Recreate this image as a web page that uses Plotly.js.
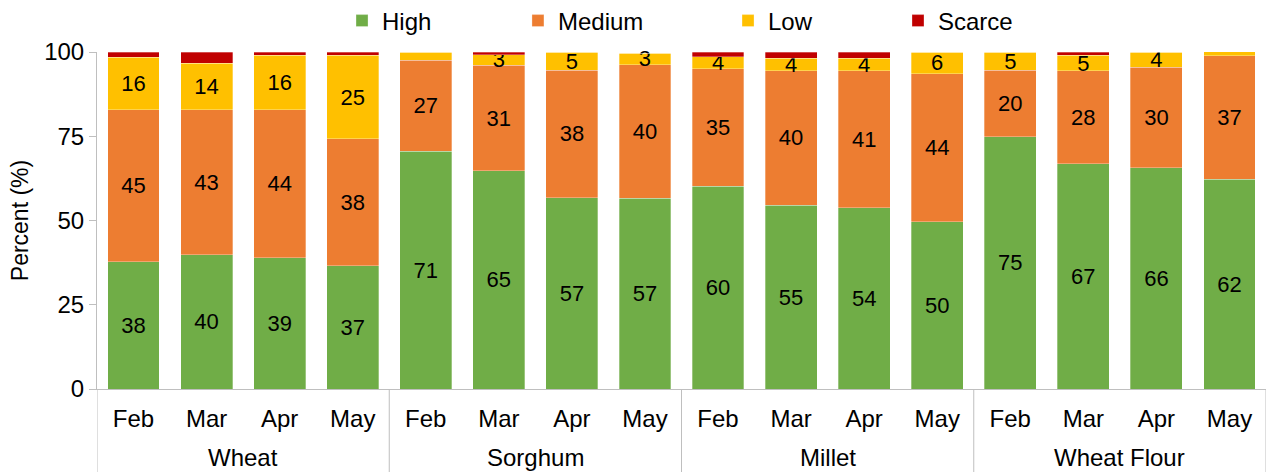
<!DOCTYPE html>
<html>
<head>
<meta charset="utf-8">
<script src="https://cdn.plot.ly/plotly-3.0.1.min.js"></script>
<style>html,body{margin:0;padding:0;background:#fff;}#chart{width:1271px;height:472px;}</style>
</head>
<body>
<div id="chart"></div>
<script>
const groups = ["Wheat","Wheat","Wheat","Wheat","Sorghum","Sorghum","Sorghum","Sorghum","Millet","Millet","Millet","Millet","Wheat Flour","Wheat Flour","Wheat Flour","Wheat Flour"];
const months = ["Feb","Mar","Apr","May","Feb","Mar","Apr","May","Feb","Mar","Apr","May","Feb","Mar","Apr","May"];
const high   = [37.7, 39.8, 38.9, 36.6, 70.6, 64.7, 56.8, 56.6, 60.2, 54.6, 53.8, 49.6, 74.8, 66.8, 65.6, 62.3];
const medium = [45.1, 43.0, 43.9, 37.6, 27.0, 31.4, 37.8, 39.6, 34.8, 39.9, 40.7, 44.0, 19.8, 27.6, 29.9, 36.6];
const low    = [15.7, 13.8, 16.2, 24.8,  2.4,  3.1,  5.4,  3.45, 3.6,  3.6,  3.6,  6.4,  5.4,  4.6,  4.4,  1.2];
const scarce = [ 1.5,  3.4,  1.0,  1.0,  0.0,  0.8,  0.0,  0.0,  1.4,  1.9,  1.9,  0.0,  0.0,  1.0,  0.0,  0.0];
const seriesNames = ["High","Medium","Low","Scarce"];
const seriesColors = ["#70AD47","#ED7D31","#FFC000","#C00000"];
const seriesData = [high, medium, low, scarce];
const showLabel = [true, true, true, false];
const legendIds = ["legend","legend2","legend3","legend4"];
const legendX = [0.2096, 0.3601, 0.5398, 0.6852];

const FONT = "Liberation Sans, Arial, sans-serif";
const idx = months.map((_, i) => i);

const traces = seriesData.map((vals, i) => ({
  type: "bar",
  name: seriesNames[i],
  legend: legendIds[i],
  x: idx,
  y: vals,
  marker: {color: seriesColors[i], line: {color: "rgba(255,255,255,0.6)", width: 0.5}},
  text: vals.map(v => (showLabel[i] && v >= 2.5) ? String(Math.round(v)) : ""),
  textposition: "inside",
  insidetextanchor: "middle",
  textangle: 0,
  constraintext: "none",
  textfont: {family: FONT, size: 22, color: "#000"},
  hoverinfo: "skip",
  cliponaxis: false
}));

// group labels and dividers derived from the groups array
const annotations = [];
const shapes = [];
let start = 0;
for (let i = 1; i <= groups.length; i++) {
  if (i === groups.length || groups[i] !== groups[start]) {
    annotations.push({
      text: groups[start], x: (start + i - 1) / 2, xref: "x",
      y: -0.2018, yref: "paper", yanchor: "middle", xanchor: "center",
      showarrow: false, font: {family: FONT, size: 24, color: "#000"}
    });
    shapes.push({type: "line", xref: "x", yref: "paper", x0: start - 0.5, x1: start - 0.5,
      y0: 0, y1: -0.2463, line: {color: "#BFBFBF", width: 1}});
    start = i;
  }
}
shapes.push({type: "line", xref: "x", yref: "paper", x0: groups.length - 0.5, x1: groups.length - 0.5,
  y0: 0, y1: -0.2463, line: {color: "#BFBFBF", width: 1}});

const layout = {
  width: 1271, height: 472,
  barmode: "stack",
  bargap: 0.29,
  margin: {l: 97, r: 5, t: 52, b: 83, autoexpand: false},
  paper_bgcolor: "#fff", plot_bgcolor: "#fff",
  font: {family: FONT, size: 24, color: "#000"},
  uniformtext: {mode: "show", minsize: 22},
  showlegend: true,
  annotations: annotations,
  shapes: shapes,
  xaxis: {
    range: [-0.5, months.length - 0.5],
    tickvals: idx, ticktext: months,
    showline: true, linecolor: "#BFBFBF", linewidth: 1,
    ticks: "", ticklabelstandoff: 8,
    tickfont: {family: FONT, size: 24, color: "#000"},
    showgrid: false, zeroline: false
  },
  yaxis: {
    range: [0, 100], tickvals: [0, 25, 50, 75, 100],
    showline: true, linecolor: "#BFBFBF", linewidth: 1,
    ticks: "outside", ticklen: 7, tickcolor: "#BFBFBF",
    showgrid: false, zeroline: false,
    tickfont: {family: FONT, size: 24, color: "#000"},
    title: {text: "Percent (%)", font: {family: FONT, size: 23, color: "#000"}, standoff: 9}
  }
};
legendIds.forEach((id, i) => {
  layout[id] = {orientation: "h", x: legendX[i], xanchor: "left", y: 1.092, yanchor: "middle",
    font: {family: FONT, size: 24, color: "#000"}, bgcolor: "rgba(0,0,0,0)", borderwidth: 0};
});

Plotly.newPlot("chart", traces, layout, {displayModeBar: false, staticPlot: true});
</script>
</body>
</html>
